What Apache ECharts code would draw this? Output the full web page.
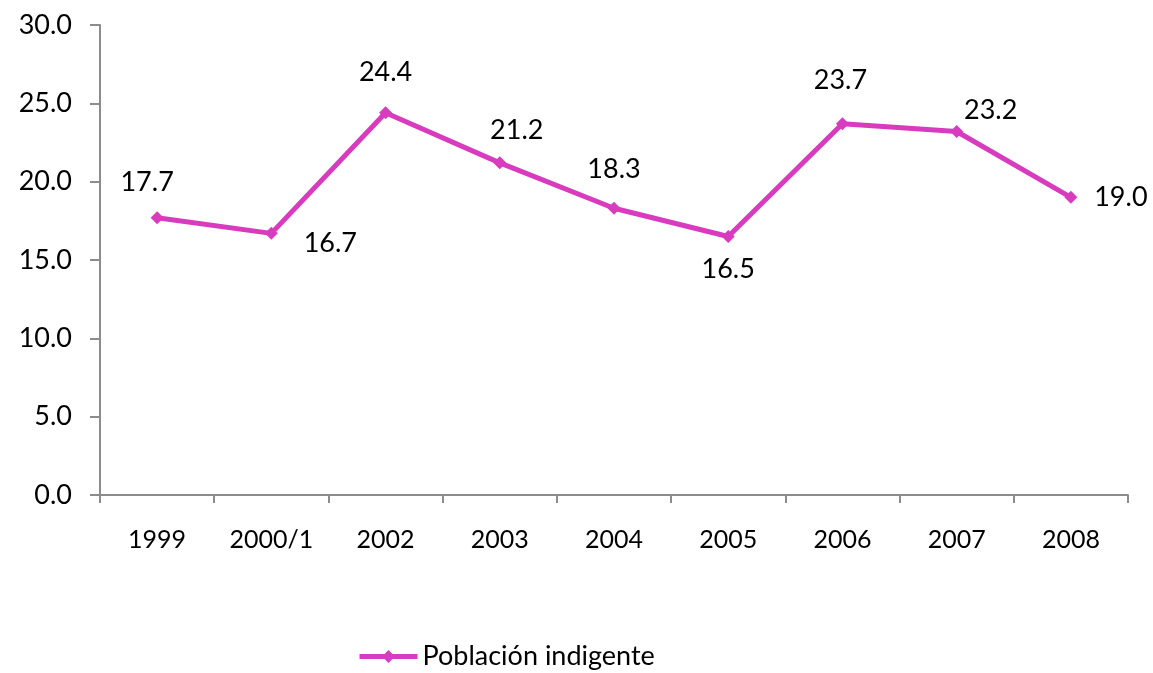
<!DOCTYPE html>
<html>
<head>
<meta charset="utf-8">
<script src="https://cdn.jsdelivr.net/npm/echarts@6/dist/echarts.min.js"></script>
<style>
  html, body { margin: 0; padding: 0; background: #fff; }
  #chart { width: 1153px; height: 673px; }
</style>
</head>
<body>
<div id="chart"></div>
<script>
var categories = ['1999', '2000/1', '2002', '2003', '2004', '2005', '2006', '2007', '2008']
var indigente = [17.7, 16.7, 24.4, 21.2, 18.3, 16.5, 23.7, 23.2, 19.0]
var seriesName = 'Población indigente'

// label offsets from each point (text centre)
var labelOffsets = [[-10, -35], [59, 10], [0, -40], [17, -33], [0, -39], [0, 33], [-2, -43], [34, -21], [50, 0]]

var chart = echarts.init(document.getElementById('chart'))
var font = 'Lato, "Open Sans", sans-serif'
var axisGray = '#8c8c8c'
var magenta = '#d93bbf'

chart.setOption({
  animation: false,
  textStyle: { fontFamily: font },
  grid: { left: 100, right: 25, top: 25, bottom: 178 },
  legend: {
    left: 352,
    top: 638,
    itemWidth: 58,
    itemHeight: 16,
    itemGap: 4,
    lineStyle: { width: 5, color: magenta },
    textStyle: { fontSize: 27, color: '#000', fontFamily: font },
    data: [seriesName]
  },
  xAxis: {
    type: 'category',
    data: categories,
    boundaryGap: true,
    axisLine: { lineStyle: { color: axisGray, width: 2 } },
    axisTick: { show: true, length: 8, lineStyle: { color: axisGray, width: 2 } },
    axisLabel: { fontSize: 25, color: '#000', margin: 32 }
  },
  yAxis: {
    type: 'value',
    min: 0,
    max: 30,
    interval: 5,
    splitLine: { show: false },
    axisLine: { show: true, lineStyle: { color: axisGray, width: 2 } },
    axisTick: { show: true, length: 10, lineStyle: { color: axisGray, width: 2 } },
    axisLabel: {
      fontSize: 27,
      color: '#000',
      margin: 28,
      formatter: function (v) { return v.toFixed(1) }
    }
  },
  series: [{
    name: seriesName,
    type: 'line',
    symbol: 'diamond',
    symbolSize: 13,
    lineStyle: { color: magenta, width: 5 },
    itemStyle: { color: magenta },
    data: indigente.map(function (v, i) {
      return {
        value: v,
        label: {
          show: true,
          position: 'inside',
          offset: labelOffsets[i],
          fontSize: 27,
          color: '#000',
          formatter: function (p) { return p.value.toFixed(1) }
        }
      }
    })
  }]
})
</script>
</body>
</html>
